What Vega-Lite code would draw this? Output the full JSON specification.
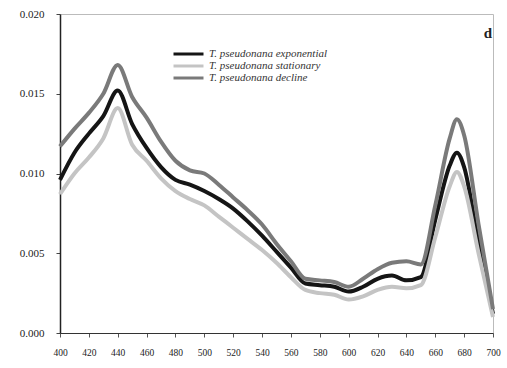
{
  "$schema": "https://vega.github.io/schema/vega-lite/v6.json",
  "width": 433,
  "height": 319,
  "autosize": {"type": "none"},
  "padding": {"left": 60, "top": 14, "right": 14, "bottom": 35},
  "background": "white",
  "title": {"text": "d", "anchor": "end", "orient": "top", "offset": -33, "dx": -9, "font": "Liberation Serif", "fontSize": 15, "fontWeight": "bold", "color": "#222222"},
  "config": {
    "view": {"stroke": "#bbbbbb", "strokeWidth": 1},
    "font": "Liberation Serif"
  },
  "datasets": {
    "spectra": [
      {"wl": 400, "series": "T. pseudonana exponential", "abs": 0.0096},
      {"wl": 410, "series": "T. pseudonana exponential", "abs": 0.0113},
      {"wl": 420, "series": "T. pseudonana exponential", "abs": 0.0125},
      {"wl": 430, "series": "T. pseudonana exponential", "abs": 0.0136},
      {"wl": 440, "series": "T. pseudonana exponential", "abs": 0.0152},
      {"wl": 450, "series": "T. pseudonana exponential", "abs": 0.0131},
      {"wl": 460, "series": "T. pseudonana exponential", "abs": 0.0116},
      {"wl": 470, "series": "T. pseudonana exponential", "abs": 0.0104},
      {"wl": 480, "series": "T. pseudonana exponential", "abs": 0.0096},
      {"wl": 490, "series": "T. pseudonana exponential", "abs": 0.0093},
      {"wl": 500, "series": "T. pseudonana exponential", "abs": 0.0089},
      {"wl": 510, "series": "T. pseudonana exponential", "abs": 0.0084},
      {"wl": 520, "series": "T. pseudonana exponential", "abs": 0.0078},
      {"wl": 530, "series": "T. pseudonana exponential", "abs": 0.0070},
      {"wl": 540, "series": "T. pseudonana exponential", "abs": 0.0061},
      {"wl": 550, "series": "T. pseudonana exponential", "abs": 0.0051},
      {"wl": 560, "series": "T. pseudonana exponential", "abs": 0.0041},
      {"wl": 570, "series": "T. pseudonana exponential", "abs": 0.0031},
      {"wl": 580, "series": "T. pseudonana exponential", "abs": 0.0030},
      {"wl": 590, "series": "T. pseudonana exponential", "abs": 0.0029},
      {"wl": 600, "series": "T. pseudonana exponential", "abs": 0.0026},
      {"wl": 610, "series": "T. pseudonana exponential", "abs": 0.0029},
      {"wl": 620, "series": "T. pseudonana exponential", "abs": 0.0034},
      {"wl": 630, "series": "T. pseudonana exponential", "abs": 0.0036},
      {"wl": 640, "series": "T. pseudonana exponential", "abs": 0.0033},
      {"wl": 650, "series": "T. pseudonana exponential", "abs": 0.0035},
      {"wl": 660, "series": "T. pseudonana exponential", "abs": 0.0071},
      {"wl": 670, "series": "T. pseudonana exponential", "abs": 0.0105},
      {"wl": 675, "series": "T. pseudonana exponential", "abs": 0.0113},
      {"wl": 680, "series": "T. pseudonana exponential", "abs": 0.0104},
      {"wl": 690, "series": "T. pseudonana exponential", "abs": 0.0056},
      {"wl": 700, "series": "T. pseudonana exponential", "abs": 0.0012},
      {"wl": 400, "series": "T. pseudonana stationary", "abs": 0.0087},
      {"wl": 410, "series": "T. pseudonana stationary", "abs": 0.0100},
      {"wl": 420, "series": "T. pseudonana stationary", "abs": 0.0110},
      {"wl": 430, "series": "T. pseudonana stationary", "abs": 0.0122},
      {"wl": 440, "series": "T. pseudonana stationary", "abs": 0.0141},
      {"wl": 450, "series": "T. pseudonana stationary", "abs": 0.0118},
      {"wl": 460, "series": "T. pseudonana stationary", "abs": 0.0108},
      {"wl": 470, "series": "T. pseudonana stationary", "abs": 0.0097},
      {"wl": 480, "series": "T. pseudonana stationary", "abs": 0.0089},
      {"wl": 490, "series": "T. pseudonana stationary", "abs": 0.0084},
      {"wl": 500, "series": "T. pseudonana stationary", "abs": 0.0080},
      {"wl": 510, "series": "T. pseudonana stationary", "abs": 0.0073},
      {"wl": 520, "series": "T. pseudonana stationary", "abs": 0.0066},
      {"wl": 530, "series": "T. pseudonana stationary", "abs": 0.0059},
      {"wl": 540, "series": "T. pseudonana stationary", "abs": 0.0052},
      {"wl": 550, "series": "T. pseudonana stationary", "abs": 0.0044},
      {"wl": 560, "series": "T. pseudonana stationary", "abs": 0.0035},
      {"wl": 570, "series": "T. pseudonana stationary", "abs": 0.0027},
      {"wl": 580, "series": "T. pseudonana stationary", "abs": 0.0025},
      {"wl": 590, "series": "T. pseudonana stationary", "abs": 0.0024},
      {"wl": 600, "series": "T. pseudonana stationary", "abs": 0.0021},
      {"wl": 610, "series": "T. pseudonana stationary", "abs": 0.0023},
      {"wl": 620, "series": "T. pseudonana stationary", "abs": 0.0027},
      {"wl": 630, "series": "T. pseudonana stationary", "abs": 0.0029},
      {"wl": 640, "series": "T. pseudonana stationary", "abs": 0.0028},
      {"wl": 650, "series": "T. pseudonana stationary", "abs": 0.0030},
      {"wl": 660, "series": "T. pseudonana stationary", "abs": 0.0060},
      {"wl": 670, "series": "T. pseudonana stationary", "abs": 0.0092},
      {"wl": 675, "series": "T. pseudonana stationary", "abs": 0.0101},
      {"wl": 680, "series": "T. pseudonana stationary", "abs": 0.0092},
      {"wl": 690, "series": "T. pseudonana stationary", "abs": 0.0050},
      {"wl": 700, "series": "T. pseudonana stationary", "abs": 0.0010},
      {"wl": 400, "series": "T. pseudonana decline", "abs": 0.0117},
      {"wl": 410, "series": "T. pseudonana decline", "abs": 0.0128},
      {"wl": 420, "series": "T. pseudonana decline", "abs": 0.0138},
      {"wl": 430, "series": "T. pseudonana decline", "abs": 0.0150},
      {"wl": 440, "series": "T. pseudonana decline", "abs": 0.0168},
      {"wl": 450, "series": "T. pseudonana decline", "abs": 0.0148},
      {"wl": 460, "series": "T. pseudonana decline", "abs": 0.0135},
      {"wl": 470, "series": "T. pseudonana decline", "abs": 0.0120},
      {"wl": 480, "series": "T. pseudonana decline", "abs": 0.0108},
      {"wl": 490, "series": "T. pseudonana decline", "abs": 0.0102},
      {"wl": 500, "series": "T. pseudonana decline", "abs": 0.0100},
      {"wl": 510, "series": "T. pseudonana decline", "abs": 0.0093},
      {"wl": 520, "series": "T. pseudonana decline", "abs": 0.0085},
      {"wl": 530, "series": "T. pseudonana decline", "abs": 0.0077},
      {"wl": 540, "series": "T. pseudonana decline", "abs": 0.0068},
      {"wl": 550, "series": "T. pseudonana decline", "abs": 0.0056},
      {"wl": 560, "series": "T. pseudonana decline", "abs": 0.0045},
      {"wl": 570, "series": "T. pseudonana decline", "abs": 0.0034},
      {"wl": 580, "series": "T. pseudonana decline", "abs": 0.0033},
      {"wl": 590, "series": "T. pseudonana decline", "abs": 0.0032},
      {"wl": 600, "series": "T. pseudonana decline", "abs": 0.0029},
      {"wl": 610, "series": "T. pseudonana decline", "abs": 0.0034},
      {"wl": 620, "series": "T. pseudonana decline", "abs": 0.0040},
      {"wl": 630, "series": "T. pseudonana decline", "abs": 0.0044},
      {"wl": 640, "series": "T. pseudonana decline", "abs": 0.0045},
      {"wl": 650, "series": "T. pseudonana decline", "abs": 0.0043},
      {"wl": 660, "series": "T. pseudonana decline", "abs": 0.0080},
      {"wl": 670, "series": "T. pseudonana decline", "abs": 0.0122},
      {"wl": 675, "series": "T. pseudonana decline", "abs": 0.0134},
      {"wl": 680, "series": "T. pseudonana decline", "abs": 0.0124},
      {"wl": 690, "series": "T. pseudonana decline", "abs": 0.0068},
      {"wl": 700, "series": "T. pseudonana decline", "abs": 0.0015}
    ]
  },
  "data": {"name": "spectra"},
  "mark": {"type": "line", "strokeWidth": 4, "interpolate": "monotone"},
  "encoding": {
    "x": {
      "field": "wl",
      "type": "quantitative",
      "scale": {"domain": [400, 700], "nice": false},
      "axis": {
        "title": null,
        "values": [400, 420, 440, 460, 480, 500, 520, 540, 560, 580, 600, 620, 640, 660, 680, 700],
        "labelOverlap": false,
        "labelFlush": false,
        "grid": false,
        "domainColor": "#333333",
        "tickColor": "#555555",
        "tickSize": 4,
        "labelPadding": 10,
        "labelFont": "Liberation Serif",
        "labelFontSize": 9.5,
        "labelColor": "#222222"
      }
    },
    "y": {
      "field": "abs",
      "type": "quantitative",
      "scale": {"domain": [0, 0.02], "nice": false},
      "axis": {
        "title": null,
        "values": [0, 0.005, 0.01, 0.015, 0.02],
        "format": ".3f",
        "labelOverlap": false,
        "labelFlush": false,
        "grid": false,
        "domainColor": "#222222",
        "domainWidth": 1.5,
        "tickColor": "#444444",
        "tickSize": 4,
        "labelPadding": 12,
        "labelFont": "Liberation Serif",
        "labelFontSize": 11,
        "labelColor": "#222222"
      }
    },
    "color": {
      "field": "series",
      "type": "nominal",
      "sort": ["T. pseudonana exponential", "T. pseudonana stationary", "T. pseudonana decline"],
      "scale": {
        "domain": ["T. pseudonana exponential", "T. pseudonana stationary", "T. pseudonana decline"],
        "range": ["#151515", "#c4c4c4", "#7a7a7a"]
      },
      "legend": {
        "title": null,
        "orient": "none",
        "legendX": 112,
        "legendY": 34,
        "symbolType": "stroke",
        "symbolSize": 900,
        "symbolStrokeWidth": 3,
        "clipHeight": 12,
        "labelFont": "Liberation Serif",
        "labelFontStyle": "italic",
        "labelFontSize": 11,
        "labelColor": "#333333",
        "rowPadding": 0
      }
    }
  }
}
